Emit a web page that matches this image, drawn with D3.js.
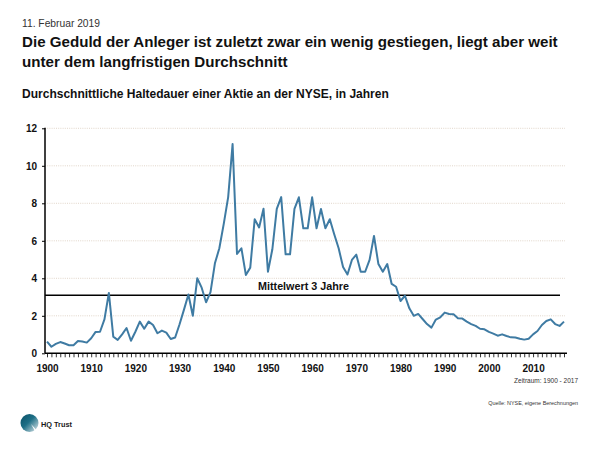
<!DOCTYPE html>
<html><head><meta charset="utf-8">
<script src="https://cdn.jsdelivr.net/npm/d3@7"></script>
<style>body{margin:0;background:#fff}svg{display:block}</style>
</head><body>
<svg id="c" width="600" height="450"></svg>
<script>
const years = d3.range(1900, 2018);
const holding = [
0.62,0.35,0.5,0.6,0.52,0.43,0.43,0.66,0.63,0.57,
0.8,1.14,1.15,1.81,3.22,0.89,0.71,1.01,1.35,0.67,
1.15,1.69,1.31,1.69,1.51,1.07,1.21,1.1,0.76,0.84,
1.55,2.33,3.14,2.0,4.0,3.5,2.72,3.26,4.8,5.6,
6.9,8.33,11.16,5.3,5.6,4.18,4.57,7.15,6.71,7.71,
4.35,5.55,7.7,8.33,5.28,5.28,7.7,8.32,6.67,6.67,
8.32,6.67,7.7,6.67,7.15,6.35,5.6,4.6,4.2,4.98,
5.26,4.35,4.35,4.98,6.26,4.76,4.35,4.76,3.7,3.55,
2.79,3.07,2.4,2.0,2.1,1.83,1.56,1.37,1.8,1.92,
2.17,2.1,2.08,1.87,1.85,1.69,1.56,1.46,1.31,1.28,
1.14,1.05,0.94,1.01,0.92,0.85,0.84,0.78,0.73,0.78,
1.01,1.19,1.51,1.72,1.81,1.56,1.46,1.69];
const meanValue = 3.1;
const meanLabel = "Mittelwert 3 Jahre";
const yTicks = [0,2,4,6,8,10,12];
const xLabels = d3.range(1900, 2011, 10);
const dateText = "11. Februar 2019";
const titleLines = ["Die Geduld der Anleger ist zuletzt zwar ein wenig gestiegen, liegt aber weit","unter dem langfristigen Durchschnitt"];
const subtitle = "Durchschnittliche Haltedauer einer Aktie an der NYSE, in Jahren";
const periodText = "Zeitraum: 1900 - 2017";
const sourceText = "Quelle: NYSE, eigene Berechnungen";
const brand = "HQ Trust";

const svg = d3.select("#c");
const FONT = "'Liberation Sans', Arial, Helvetica, sans-serif";
svg.append("rect").attr("width",600).attr("height",450).attr("fill","#fff");

function fit(sel, w){
  const l = sel.node().getComputedTextLength();
  const fs = parseFloat(sel.attr("font-size"));
  sel.attr("font-size", (fs*w/l).toFixed(2));
  return fs*w/l;
}

// header
const dt = svg.append("text").attr("x",22).attr("y",27).attr("font-family",FONT)
  .attr("font-size",11).attr("fill","#333").text(dateText);
fit(dt, 78);
const t1 = svg.append("text").attr("x",22).attr("y",47).attr("font-family",FONT)
  .attr("font-size",16).attr("font-weight","bold").attr("fill","#111").text(titleLines[0]);
const tfs = fit(t1, 536);
svg.append("text").attr("x",22).attr("y",67).attr("font-family",FONT)
  .attr("font-size",tfs.toFixed(2)).attr("font-weight","bold").attr("fill","#111").text(titleLines[1]);
const st = svg.append("text").attr("x",22).attr("y",98).attr("font-family",FONT)
  .attr("font-size",12).attr("font-weight","bold").attr("fill","#111").text(subtitle);
fit(st, 367);

// scales
const x = d3.scaleLinear().domain([1900, 2017]).range([47, 564]);
const y = d3.scaleLinear().domain([0, 12]).range([353.3, 128.3]);

// grid
svg.append("g").selectAll("line").data(yTicks.filter(d=>d>0)).join("line")
  .attr("x1",45).attr("x2",565).attr("y1",d=>y(d)).attr("y2",d=>y(d))
  .attr("stroke","#d9cbbd").attr("stroke-width",0.8).attr("stroke-dasharray","1,1.2");

// y axis
const ya = svg.append("g").attr("transform","translate(45,0)")
  .call(d3.axisLeft(y).tickValues(yTicks).tickSize(3).tickPadding(5).tickFormat(d3.format("d")));
ya.select(".domain").remove();
ya.selectAll("line").attr("stroke","#000").attr("stroke-width",1);
ya.selectAll("text").attr("font-family",FONT).attr("font-size",10).attr("font-weight","bold").attr("fill","#111");
svg.append("line").attr("x1",45).attr("x2",45).attr("y1",y(12)-0.5).attr("y2",y(0))
  .attr("stroke","#000").attr("stroke-width",1.5);

// x axis
const xa = svg.append("g").attr("transform",`translate(0,${y(0)})`)
  .call(d3.axisBottom(x).tickValues(years).tickSize(4).tickPadding(8)
    .tickFormat(d => xLabels.includes(d) ? String(d) : ""));
xa.select(".domain").remove();
xa.selectAll("line").attr("stroke","#000").attr("stroke-width",0.8);
xa.selectAll("text").attr("font-family",FONT).attr("font-size",10).attr("font-weight","bold").attr("fill","#111");
svg.append("line").attr("x1",45).attr("x2",567).attr("y1",y(0)).attr("y2",y(0))
  .attr("stroke","#000").attr("stroke-width",1.5);

// mean line
svg.append("line").attr("x1",45).attr("x2",560).attr("y1",y(meanValue)).attr("y2",y(meanValue))
  .attr("stroke","#000").attr("stroke-width",1.6);
const ml = svg.append("text").attr("x",258).attr("y",y(meanValue)-5).attr("font-family",FONT)
  .attr("font-size",11).attr("font-weight","bold").attr("fill","#111").text(meanLabel);
fit(ml, 91);

// data line
const line = d3.line().x((d,i)=>x(years[i])).y(d=>y(d));
svg.append("path").datum(holding).attr("d",line).attr("fill","none")
  .attr("stroke","#3f7ba3").attr("stroke-width",2).attr("stroke-linejoin","round");

// footer
const pt = svg.append("text").attr("x",578).attr("y",383).attr("text-anchor","end").attr("font-family",FONT)
  .attr("font-size",8).attr("fill","#333").text(periodText);
fit(pt, 64);
const so = svg.append("text").attr("x",578).attr("y",405).attr("text-anchor","end").attr("font-family",FONT)
  .attr("font-size",7).attr("fill","#333").text(sourceText);
fit(so, 90);

// logo
const defs = svg.append("defs");
const g = defs.append("linearGradient").attr("id","lg").attr("x1","0").attr("y1","0").attr("x2","1").attr("y2","1");
g.append("stop").attr("offset","0%").attr("stop-color","#0a4f66");
g.append("stop").attr("offset","45%").attr("stop-color","#1d6f86");
g.append("stop").attr("offset","100%").attr("stop-color","#e6ecef");
svg.append("circle").attr("cx",29.5).attr("cy",423).attr("r",9).attr("fill","url(#lg)");
svg.append("path").attr("d","M31,424 L39,433 L36,433 Z").attr("fill","#fff");
const bt = svg.append("text").attr("x",41).attr("y",427).attr("font-family",FONT)
  .attr("font-size",9).attr("font-weight","bold").attr("fill","#1a1a1a").text(brand);
fit(bt, 31);
</script>
</body></html>
